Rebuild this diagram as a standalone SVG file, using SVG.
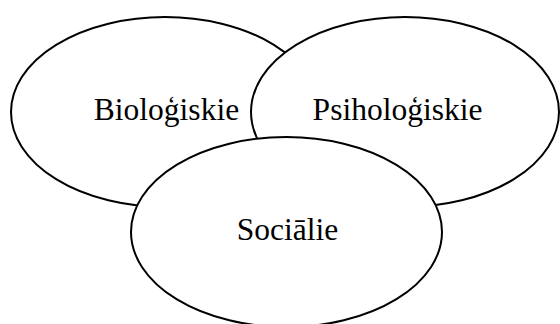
<svg xmlns="http://www.w3.org/2000/svg" width="560" height="324" viewBox="0 0 560 324">
<style>
.e{fill:#fff;stroke:#000;stroke-width:2}
.t{font-family:"Liberation Serif","Times New Roman",serif;font-size:31.5px;fill:#000;text-anchor:middle}
</style>
<rect width="560" height="324" fill="#fff"/>
<g id="bio">
<ellipse class="e" cx="165" cy="112" rx="154" ry="95"/>
<text class="t" x="166.5" y="120">Bioloģiskie</text>
</g>
<g id="psih">
<ellipse class="e" cx="405" cy="112" rx="154" ry="95"/>
<text class="t" x="397.5" y="120">Psiholoģiskie</text>
</g>
<g id="soc">
<ellipse class="e" cx="286.5" cy="232" rx="155.5" ry="95"/>
<text class="t" x="287.5" y="240">Sociālie</text>
</g>
<g id="connectors"/>
</svg>
